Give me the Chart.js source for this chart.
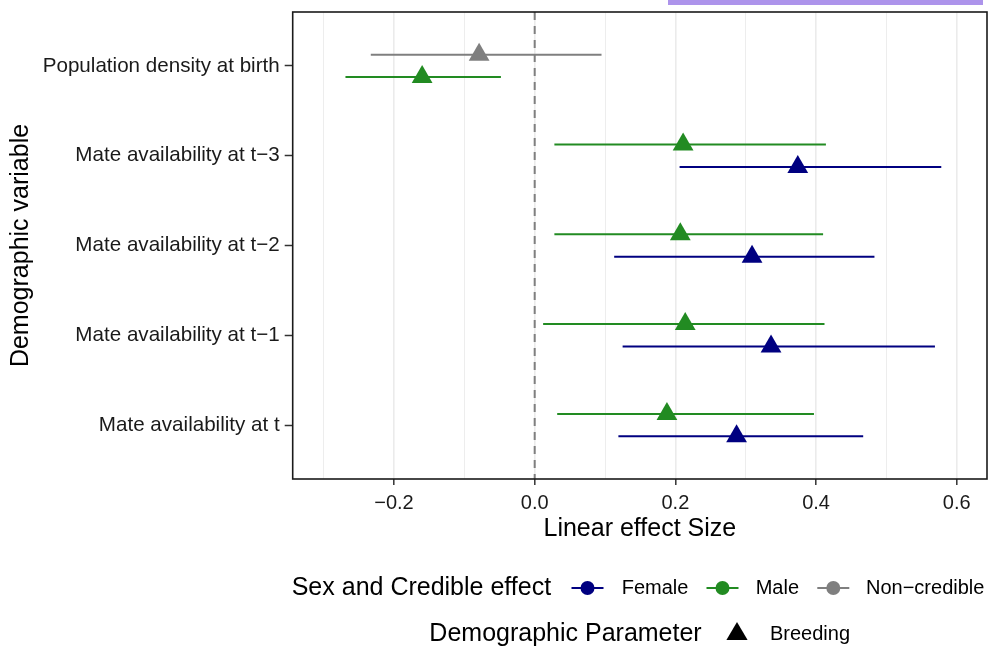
<!DOCTYPE html>
<html>
<head>
<meta charset="utf-8">
<script src="https://cdn.jsdelivr.net/npm/chart.js@4.4.1/dist/chart.umd.min.js"></script>
<style>
  html, body { margin: 0; padding: 0; background: #fff; overflow: hidden; }
  #wrap { position: relative; width: 990px; height: 648px; overflow: hidden; }
  #effectChart { position: absolute; left: 0; top: 0; }
</style>
</head>
<body>
<div id="wrap"><canvas id="effectChart" width="999" height="648"></canvas></div>
<script>
    // categories (top to bottom)
    var categories = [
        'Population density at birth',
        'Mate availability at t\u22123',
        'Mate availability at t\u22122',
        'Mate availability at t\u22121',
        'Mate availability at t'
    ];

    // upper row in each category
    var upperEffect = ['Non\u2212credible', 'Male', 'Male', 'Male', 'Male'];
    var upperMean = [-0.079, 0.211, 0.207, 0.214, 0.188];
    var upperLow = [-0.233, 0.028, 0.028, 0.012, 0.032];
    var upperHigh = [0.095, 0.414, 0.410, 0.412, 0.397];

    // lower row in each category
    var lowerEffect = ['Male', 'Female', 'Female', 'Female', 'Female'];
    var lowerMean = [-0.160, 0.374, 0.309, 0.336, 0.287];
    var lowerLow = [-0.269, 0.206, 0.113, 0.125, 0.119];
    var lowerHigh = [-0.048, 0.578, 0.483, 0.569, 0.467];

    var majorTicks = [-0.2, 0, 0.2, 0.4, 0.6];
    var minorTicks = [-0.3, -0.1, 0.1, 0.3, 0.5];
    var zeroLine = 0;

    var effectLevels = ['Female', 'Male', 'Non\u2212credible'];
    var parameterLevels = ['Breeding'];

    var effectColors = {
        'Female': '#000080',
        'Male': '#228B22',
        'Non\u2212credible': '#7F7F7F'
    };

    var xMin = -0.344, xMax = 0.643;
    var yMin = -0.6, yMax = 4.6;
    var dodge = 0.125;
    var fontFamily = '"Liberation Sans", Arial, Helvetica, sans-serif';

    Chart.defaults.font.family = fontFamily;
    Chart.defaults.color = '#000';

    function isMajor(v) {
        return majorTicks.some(function (m) { return Math.abs(m - v) < 1e-9; });
    }

    // no extra room for half labels, the layout padding decides the panel
    function noScalePadding(scale) {
        scale.paddingLeft = 0;
        scale.paddingRight = 0;
        scale.paddingTop = 0;
        scale.paddingBottom = 0;
    }

    function barDatasets(lows, highs, effects, shift) {
        return categories.map(function (c, i) {
            return {
                type: 'line',
                data: [{ x: lows[i], y: i + shift }, { x: highs[i], y: i + shift }],
                borderColor: effectColors[effects[i]],
                borderWidth: 2,
                pointRadius: 0,
                order: 2
            };
        });
    }

    function pointDataset(means, effects, shift) {
        return {
            type: 'scatter',
            data: means.map(function (m, i) { return { x: m, y: i + shift }; }),
            pointStyle: 'triangle',
            pointRadius: 12,
            pointHoverRadius: 12,
            pointBorderWidth: 0,
            pointBackgroundColor: effects.map(function (e) { return effectColors[e]; }),
            order: 1
        };
    }

    var datasets = [
        {
            type: 'line',
            data: [{ x: zeroLine, y: yMin }, { x: zeroLine, y: yMax }],
            borderColor: '#7F7F7F',
            borderWidth: 2,
            borderDash: [8, 6],
            pointRadius: 0,
            order: 3
        }
    ]
        .concat(barDatasets(upperLow, upperHigh, upperEffect, -dodge))
        .concat(barDatasets(lowerLow, lowerHigh, lowerEffect, dodge))
        .concat([pointDataset(upperMean, upperEffect, -dodge), pointDataset(lowerMean, lowerEffect, dodge)]);

    // border, legend and the strip at the top
    var panelPlugin = {
        id: 'panel',
        beforeDraw: function (chart) {
            var ctx = chart.ctx;
            ctx.save();
            ctx.fillStyle = '#fff';
            ctx.fillRect(0, 0, chart.width, chart.height);
            ctx.fillStyle = '#AD94EB';
            ctx.fillRect(668, 0, 315, 5);
            ctx.restore();
        },
        afterDraw: function (chart) {
            var ctx = chart.ctx;
            var a = chart.chartArea;
            ctx.save();
            ctx.strokeStyle = '#1a1a1a';
            ctx.lineWidth = 1.6;
            ctx.strokeRect(a.left, a.top, a.right - a.left, a.bottom - a.top);

            // legend row 1
            var y1 = 588;
            ctx.fillStyle = '#000';
            ctx.textBaseline = 'middle';
            ctx.textAlign = 'left';
            ctx.font = '25px ' + fontFamily;
            ctx.fillText('Sex and Credible effect', 291.7, y1);
            var keyX = [587.5, 722.5, 833.3];
            var textX = [621.7, 755.7, 866];
            ctx.font = '20px ' + fontFamily;
            effectLevels.forEach(function (lvl, i) {
                var col = effectColors[lvl];
                ctx.strokeStyle = col;
                ctx.lineWidth = 2;
                ctx.beginPath();
                ctx.moveTo(keyX[i] - 16, y1);
                ctx.lineTo(keyX[i] + 16, y1);
                ctx.stroke();
                ctx.fillStyle = col;
                ctx.beginPath();
                ctx.arc(keyX[i], y1, 7, 0, Math.PI * 2);
                ctx.fill();
                ctx.fillStyle = '#000';
                ctx.fillText(lvl, textX[i], y1);
            });

            // legend row 2
            var y2 = 634;
            ctx.font = '25px ' + fontFamily;
            ctx.textAlign = 'right';
            ctx.fillText('Demographic Parameter', 701.7, y2);
            ctx.fillStyle = '#000';
            ctx.beginPath();
            ctx.moveTo(737, y2 - 12);
            ctx.lineTo(737 + 10.6, y2 + 6);
            ctx.lineTo(737 - 10.6, y2 + 6);
            ctx.closePath();
            ctx.fill();
            ctx.textAlign = 'left';
            ctx.font = '20px ' + fontFamily;
            ctx.fillText(parameterLevels[0], 770, y2);
            ctx.restore();
        }
    };

    var ctx = document.getElementById('effectChart').getContext('2d');
    var effectChart = new Chart(ctx, {
        type: 'scatter',
        data: { datasets: datasets },
        plugins: [panelPlugin],
        options: {
            responsive: false,
            animation: false,
            devicePixelRatio: 1,
            layout: { padding: { left: 0, right: 0, top: 11, bottom: 99 } },
            plugins: {
                legend: { display: false },
                tooltip: { enabled: false }
            },
            scales: {
                x: {
                    type: 'linear',
                    min: xMin,
                    max: xMax,
                    afterBuildTicks: function (scale) {
                        scale.ticks = minorTicks.concat(majorTicks)
                            .sort(function (a, b) { return a - b; })
                            .map(function (v) { return { value: v }; });
                    },
                    afterFit: function (scale) {
                        scale.height = 70;
                        noScalePadding(scale);
                    },
                    ticks: {
                        autoSkip: false,
                        maxRotation: 0,
                        padding: 6,
                        color: '#1a1a1a',
                        font: { size: 20 },
                        callback: function (value) {
                            if (!isMajor(value)) return '';
                            return (value < -1e-9 ? '\u2212' : '') + Math.abs(value).toFixed(1);
                        }
                    },
                    grid: {
                        drawTicks: true,
                        tickLength: 6,
                        color: '#EBEBEB',
                        lineWidth: function (c) { return c.tick && isMajor(c.tick.value) ? 1.6 : 0.9; },
                        tickColor: function (c) { return c.tick && isMajor(c.tick.value) ? '#333' : 'rgba(0,0,0,0)'; },
                        tickWidth: 1.5
                    },
                    border: { display: false },
                    title: {
                        display: true,
                        text: 'Linear effect Size',
                        color: '#000',
                        font: { size: 25 },
                        padding: { top: 0, bottom: 5 }
                    }
                },
                y: {
                    type: 'linear',
                    min: yMin,
                    max: yMax,
                    reverse: true,
                    afterBuildTicks: function (scale) {
                        scale.ticks = categories.map(function (c, i) { return { value: i }; });
                    },
                    afterFit: function (scale) {
                        scale.width = 292.7;
                        noScalePadding(scale);
                    },
                    ticks: {
                        autoSkip: false,
                        padding: 5,
                        color: '#1a1a1a',
                        font: { size: 20.6 },
                        callback: function (value) { return categories[value]; }
                    },
                    grid: {
                        drawOnChartArea: false,
                        drawTicks: true,
                        tickLength: 8,
                        tickColor: '#333',
                        tickWidth: 1.5
                    },
                    border: { display: false },
                    title: {
                        display: true,
                        text: 'Demographic variable',
                        color: '#000',
                        font: { size: 25 },
                        padding: { top: 6, bottom: 0 }
                    }
                }
            }
        }
    });
</script>
</body>
</html>
